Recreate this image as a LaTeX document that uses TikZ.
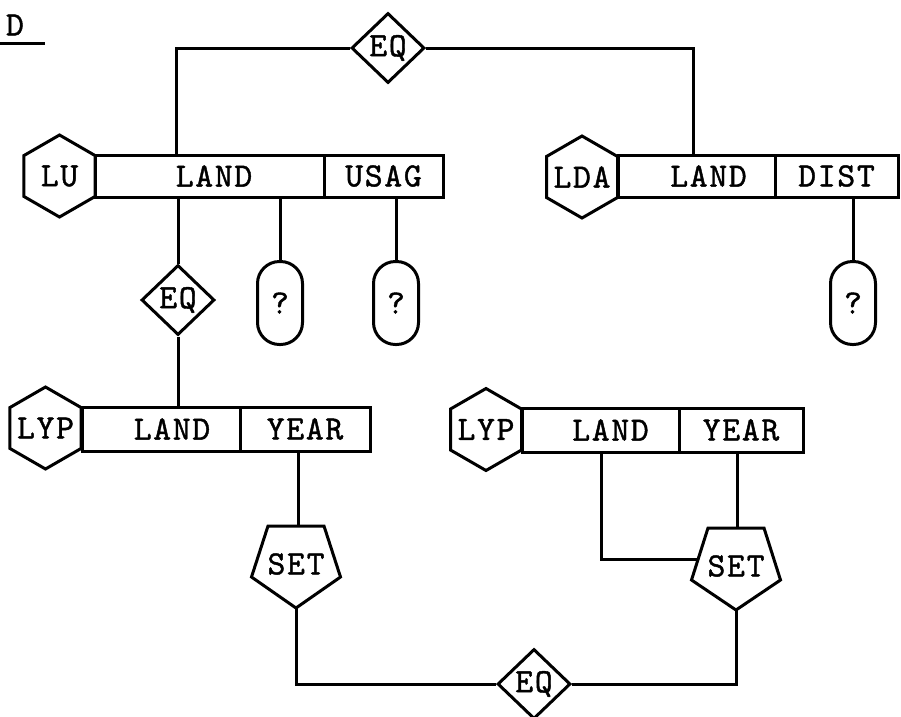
\documentclass[tikz,border=0pt]{standalone}
\usepackage{fontspec}
\newfontfamily\tw{lmmono10-regular.otf}[LetterSpace=5,FakeBold=1.2]
\usetikzlibrary{shapes.geometric,calc}
\newcommand\zw[1]{\makebox[0pt]{#1}}
\begin{document}
\begin{tikzpicture}[x=1pt,y=-1pt,line width=3pt,
  every node/.style={font=\tw\fontsize{34}{36}\selectfont, inner sep=0pt, line width=3pt},
  hexa/.style={draw, regular polygon, regular polygon sides=6, shape border rotate=30, minimum size=82pt},
  cmp/.style={draw, diamond, minimum width=73pt, minimum height=70pt},
  field/.style={draw, rectangle, minimum height=#1},
  field/.default=42pt,
  qbox/.style={draw, rectangle, rounded corners=22pt, minimum width=45pt, minimum height=83pt}
]
\useasboundingbox[fill=white] (0,0) rectangle (901,716);

% title
\node (title) at (15,25) {D};
\draw (0,43) -- (45,43);

% top relation LU
\node[hexa] (lu) at (59.5,176) {\zw{LU}};
\node[field, minimum width=229pt] (lu-land) at (209.5,176) {\hspace*{9pt}LAND};
\node[field, minimum width=119pt] (lu-usag) at (383.5,176) {USAG};

% top relation LDA
\node[hexa] (lda) at (582,177) {\zw{LDA}};
\node[field, minimum width=157pt] (lda-land) at (696.5,176) {\hspace*{24pt}LAND};
\node[field, minimum width=123pt] (lda-dist) at (836.5,176) {DIST};

% comparisons
\node[cmp] (eq1) at (388,48) {\zw{EQ}};
\node[cmp] (eq2) at (178,300) {\zw{EQ}};
\node[cmp] (eq3) at (534,684) {\zw{EQ}};

% question nodes
\node[qbox] (q1) at (280,303) {?};
\node[qbox] (q2) at (396,303) {?};
\node[qbox] (q3) at (853,303) {?};

% LYP left
\node[hexa] (lyp1) at (45.5,428) {\zw{LYP}};
\node[field=44pt, minimum width=158pt] (lyp1-land) at (161,429) {\hspace*{22pt}LAND};
\node[field=44pt, minimum width=130pt] (lyp1-year) at (305,429) {YEAR};

% LYP right
\node[hexa] (lyp2) at (486,429.5) {\zw{LYP}};
\node[field=44pt, minimum width=157pt] (lyp2-land) at (600.5,430) {\hspace*{20pt}LAND};
\node[field=44pt, minimum width=124pt] (lyp2-year) at (741,430) {YEAR};

% SET nodes (pentagons)
\node (set1) at (296,564) {SET};
\draw[shift={(set1.center)}] (-28,-38) coordinate (set1-tl) -- (28,-38) coordinate (set1-tr)
   -- (44.5,13) -- (0,44) coordinate (set1-bot) -- (-44.5,13) -- cycle;
\coordinate (set1-top) at ($(set1-tl)!0.5!(set1-tr)+(2,0)$);
\node (set2) at (736,566) {SET};
\draw[shift={(set2.center)}] (-28,-38) coordinate (set2-tl) -- (28,-38) coordinate (set2-tr)
   -- (44.5,14) -- (0,44) coordinate (set2-bot) -- (-44.5,14) coordinate (set2-l) -- cycle;
\coordinate (set2-top) at ($(set2-tl)!0.5!(set2-tr)+(1,0)$);
\coordinate (set2-in) at ($(set2-tl)!0.6!(set2-l)$);

% connectors
\draw (eq1.west) -| ([xshift=83pt]lu-land.north west);
\draw (eq1.east) -| ([xshift=77pt]lda-land.north west);
\draw (eq2.north) -- (eq2.north |- lu-land.south);
\draw (q1.north) -- (q1.north |- lu-land.south);
\draw (q2.north) -- (q2.north |- lu-usag.south);
\draw (q3.north) -- (q3.north |- lda-dist.south);
\draw (eq2.south) -- (eq2.south |- lyp1-land.north);
\draw (set1-top) -- (set1-top |- lyp1-year.south);
\draw (set1-bot) |- (eq3.west);
\draw (eq3.east) -| (set2-bot);
\draw (set2-top) -- (set2-top |- lyp2-year.south);
\draw ([xshift=81pt]lyp2-land.south west) |- (set2-in);
\end{tikzpicture}
\end{document}
